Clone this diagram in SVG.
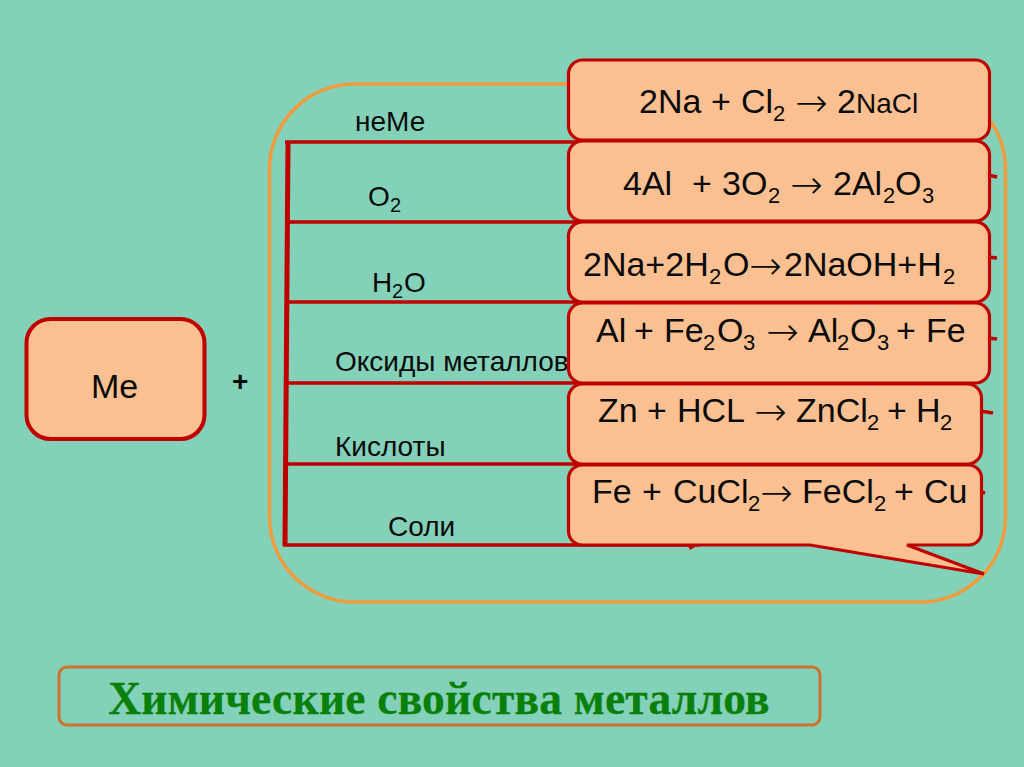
<svg xmlns="http://www.w3.org/2000/svg" width="1024" height="767" viewBox="0 0 1024 767">
<style>
text{font-family:"Liberation Sans",Arial,sans-serif;fill:#0a0a0a}
.eq{font-size:34px;transform:translate(1px,1px)}
.lb{font-size:28px}
.ls{font-size:20px}
.s{font-size:22px}
.ar{font-family:"DejaVu Sans",sans-serif;font-weight:200;font-size:39px}
.box{fill:#fbc091;stroke:#c00000;stroke-width:3.2}
.ln{stroke:#c00000;stroke-width:3.5;fill:none}
</style>
<rect width="1024" height="767" fill="#83d1b9"/>
<rect id="frame" x="269.500" y="84" width="736" height="518" rx="85" ry="85" fill="none" stroke="#f09b3c" stroke-width="3.500"/>
<g id="connectors">
<path class="ln" d="M288 141L285 546" style="stroke-width:5"/>
<path class="ln" d="M285 142H580M287 222H580M287 302H580M286 383H580M286 464H580M283 545H700"/>
<path d="M688 546L700 544L690 550Z" fill="#c00000"/>
<path class="ln" d="M988 175L997 177M988 257L997 258M988 338L997 339M980 411L993 413M980 492L985 493"/>
</g>
<g id="labels">
<text class="lb" x="355" y="131">неМе</text>
<text class="lb" x="368" y="206">O<tspan class="ls" x="390" y="212">2</tspan></text>
<text class="lb" x="372" y="292">H<tspan class="ls" x="392" y="298">2</tspan><tspan x="404" y="292">O</tspan></text>
<text class="lb" x="335" y="371">Оксиды металлов</text>
<text class="lb" x="335" y="456">Кислоты</text>
<text class="lb" x="388" y="536">Соли</text>
</g>
<g id="n1"><rect class="box" x="568.500" y="60" width="421" height="80" rx="14"/>
<text class="eq" y="112"><tspan x="638">2Na</tspan><tspan x="710">+</tspan><tspan x="740">Cl</tspan><tspan class="s" x="772" y="120">2</tspan><tspan class="ar" x="794" y="115">→</tspan><tspan x="836" y="112">2</tspan><tspan x="855" style="font-size:28px">NaCl</tspan></text></g>
<g id="n2"><rect class="box" x="568.500" y="141" width="421" height="80" rx="14"/>
<text class="eq" y="194"><tspan x="622">4Al</tspan><tspan x="691">+</tspan><tspan x="721">3O</tspan><tspan class="s" x="767" y="202">2</tspan><tspan class="ar" x="789" y="197">→</tspan><tspan x="832" y="194">2Al</tspan><tspan class="s" x="882" y="202">2</tspan><tspan x="894" y="194">O</tspan><tspan class="s" x="921" y="202">3</tspan></text></g>
<g id="n3"><rect class="box" x="568.500" y="222" width="421" height="80" rx="14"/>
<text class="eq" y="275"><tspan x="582">2Na+2H</tspan><tspan class="s" x="708" y="283">2</tspan><tspan x="722" y="275">O</tspan><tspan class="ar" x="748" y="278">→</tspan><tspan x="783" y="275">2NaOH+H</tspan><tspan class="s" x="942" y="283">2</tspan></text></g>
<g id="n4"><rect class="box" x="568.500" y="303" width="421" height="80" rx="14"/>
<text class="eq" y="341"><tspan x="595">Al</tspan><tspan x="633">+</tspan><tspan x="663">Fe</tspan><tspan class="s" x="702" y="349">2</tspan><tspan x="716" y="341">O</tspan><tspan class="s" x="742" y="349">3</tspan><tspan class="ar" x="765" y="344">→</tspan><tspan x="807" y="341">Al</tspan><tspan class="s" x="836" y="349">2</tspan><tspan x="849" y="341">O</tspan><tspan class="s" x="876" y="349">3</tspan><tspan x="895" y="341">+</tspan><tspan x="925">Fe</tspan></text></g>
<g id="n5"><rect class="box" x="568.500" y="384" width="413" height="80" rx="14"/>
<text class="eq" y="421"><tspan x="597">Zn</tspan><tspan x="646">+</tspan><tspan x="676">HCL</tspan><tspan class="ar" x="753" y="424">→</tspan><tspan x="795" y="421">ZnCl</tspan><tspan class="s" x="866" y="429">2</tspan><tspan x="886" y="421">+</tspan><tspan x="915">H</tspan><tspan class="s" x="939" y="429">2</tspan></text></g>
<g id="n6"><path class="box" d="M582 465H968A13 13 0 0 1 981.500 478V532A13 13 0 0 1 968 545H907L984 574L810 545H582A14 14 0 0 1 568.500 532V478A14 14 0 0 1 582 465Z"/>
<text class="eq" y="502"><tspan x="591">Fe</tspan><tspan x="641">+</tspan><tspan x="672">CuCl</tspan><tspan class="s" x="747" y="510">2</tspan><tspan class="ar" x="759" y="505">→</tspan><tspan x="801" y="502">FeCl</tspan><tspan class="s" x="873" y="510">2</tspan><tspan x="893" y="502">+</tspan><tspan x="923">Cu</tspan></text></g>
<g id="me"><rect x="26.500" y="319" width="178" height="120" rx="24" fill="#fbc091" stroke="#c00000" stroke-width="4"/>
<text class="eq" x="90" y="397">Me</text></g>
<text x="232" y="391" style="font-size:28px;font-weight:bold">+</text>
<g id="title"><rect x="59" y="667" width="761" height="58" rx="8" fill="none" stroke="#cc7430" stroke-width="3"/>
<text x="439" y="714" text-anchor="middle" style="font-family:'Liberation Serif',serif;font-size:45.500px;font-weight:bold;letter-spacing:.2px;fill:#0a800a;stroke:#0a800a;stroke-width:.3">Химические свойства металлов</text></g>
</svg>
